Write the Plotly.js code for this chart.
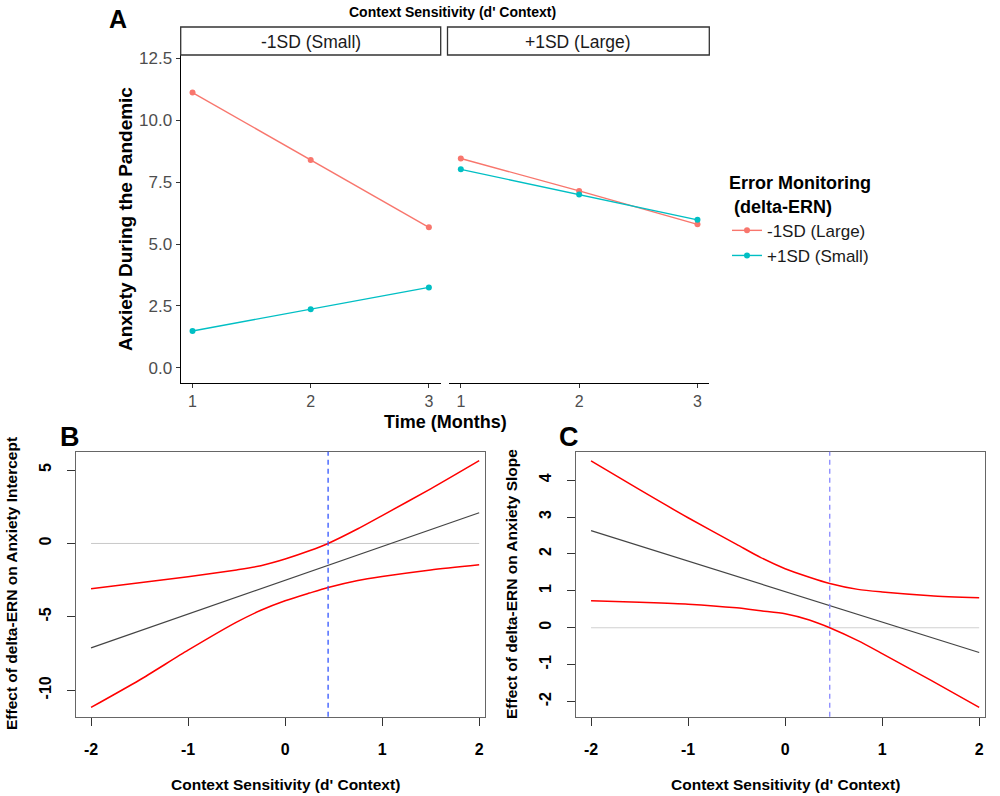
<!DOCTYPE html>
<html>
<head>
<meta charset="utf-8">
<script src="https://cdn.plot.ly/plotly-3.0.1.min.js"></script>
<style>
  html, body { margin: 0; padding: 0; background: #fff; }
  #fig { width: 1000px; height: 796px; }
</style>
</head>
<body>
<div id="fig"></div>
<script>
// Panel A: anxiety over time, split by context sensitivity
const months = [1, 2, 3];
const smallCtxLargeErn = [11.12, 8.40, 5.68];   // -1SD context, -1SD delta-ERN (Large)
const smallCtxSmallErn = [1.49, 2.37, 3.25];    // -1SD context, +1SD delta-ERN (Small)
const largeCtxLargeErn = [8.46, 7.15, 5.80];
const largeCtxSmallErn = [8.02, 7.00, 5.98];
const facetLabels = ["-1SD (Small)", "+1SD (Large)"];
const ernLabels = ["-1SD (Large)", "+1SD (Small)"];

// Panel B: effect on anxiety intercept (Johnson-Neyman)
const bCtx = [-2, -1.5, -1, -0.5, -0.25, 0, 0.25, 0.443, 0.75, 1, 1.5, 2];
const bUpper = [-3.08, -2.68, -2.27, -1.80, -1.52, -1.06, -0.50, 0, 1.00, 1.90, 3.72, 5.64];
const bLower = [-11.17, -9.30, -7.27, -5.36, -4.55, -3.90, -3.38, -3.00, -2.52, -2.25, -1.80, -1.45];
const bLineX = [-2, 2];
const bEstimate = [-7.11, 2.09];
const bBoundary = 0.443;

// Panel C: effect on anxiety slope
const cCtx = [-2, -1.5, -1, -0.5, -0.25, 0, 0.25, 0.46, 0.75, 1, 1.5, 2];
const cUpper = [4.52, 3.74, 2.98, 2.26, 1.90, 1.60, 1.37, 1.20, 1.04, 0.97, 0.87, 0.81];
const cLower = [0.73, 0.69, 0.64, 0.54, 0.46, 0.38, 0.21, 0, -0.35, -0.70, -1.42, -2.16];
const cLineX = [-2, 2];
const cEstimate = [2.63, -0.67];
const cBoundary = 0.46;

const zeroX = [-2, 2];
const zeroY = [0, 0];

const ctxTicks = [-2, -1, 0, 1, 2];
const ctxTickText = ["-2", "-1", "0", "1", "2"];
const bTicks = [-10, -5, 0, 5];
const bTickText = ["-10", "-5", "0", "5"];
const cTicks = [-2, -1, 0, 1, 2, 3, 4];
const cTickText = ["-2", "-1", "0", "1", "2", "3", "4"];

const RED = "#F8766D";
const TEAL = "#00BFC4";
const FONT = "Liberation Sans, Arial, sans-serif";

// pixel -> paper helpers (margins are zero)
const px = (x) => x / 1000;
const py = (y) => 1 - y / 796;

function seriesA(y, color, name, xa, ya, show) {
  return {
    x: months, y: y, xaxis: xa, yaxis: ya,
    type: "scatter", mode: "lines+markers", name: name,
    legendgroup: name, showlegend: show,
    line: { color: color, width: 1.4 },
    marker: { color: color, size: 6 },
  };
}

function bandLine(x, y, xa, ya, color, width) {
  return {
    x: x, y: y, xaxis: xa, yaxis: ya, type: "scatter", mode: "lines",
    showlegend: false, hoverinfo: "skip",
    line: { color: color, width: width, shape: "spline", smoothing: 0.7 },
  };
}

const traces = [
  seriesA(smallCtxLargeErn, RED, ernLabels[0], "x", "y", true),
  seriesA(smallCtxSmallErn, TEAL, ernLabels[1], "x", "y", true),
  seriesA(largeCtxLargeErn, RED, ernLabels[0], "x2", "y2", false),
  seriesA(largeCtxSmallErn, TEAL, ernLabels[1], "x2", "y2", false),

  bandLine(zeroX, zeroY, "x3", "y3", "#c8c8c8", 1),
  bandLine(bLineX, bEstimate, "x3", "y3", "#444444", 1.2),
  bandLine(bCtx, bUpper, "x3", "y3", "#ff0000", 1.5),
  bandLine(bCtx, bLower, "x3", "y3", "#ff0000", 1.5),

  bandLine(zeroX, zeroY, "x4", "y4", "#d0d0d0", 1.2),
  bandLine(cLineX, cEstimate, "x4", "y4", "#444444", 1.2),
  bandLine(cCtx, cUpper, "x4", "y4", "#ff0000", 1.5),
  bandLine(cCtx, cLower, "x4", "y4", "#ff0000", 1.5),
];

const axA = {
  showline: true, linecolor: "#000", linewidth: 1.1,
  ticks: "outside", ticklen: 4, tickcolor: "#333", tickwidth: 1,
  tickfont: { family: FONT, size: 17, color: "#4d4d4d" },
  showgrid: false, zeroline: false,
};

const axBase = {
  showline: true, mirror: true, linecolor: "#666", linewidth: 1.2,
  ticks: "outside", ticklen: 8, tickcolor: "#333", tickwidth: 1,
  tickfont: { family: FONT, size: 16, color: "#000", weight: "bold" },
  showgrid: false, zeroline: false,
};

const layout = {
  width: 1000, height: 796,
  margin: { l: 0, r: 0, t: 0, b: 0 },
  paper_bgcolor: "#fff", plot_bgcolor: "rgba(0,0,0,0)",
  font: { family: FONT },
  showlegend: true,

  xaxis: Object.assign({}, axA, {
    domain: [px(180.7), px(440.7)], range: [0.9, 3.1], anchor: "y",
    tickvals: months, tickfont: { family: FONT, size: 16, color: "#4d4d4d" },
  }),
  xaxis2: Object.assign({}, axA, {
    domain: [px(449), px(709.3)], range: [0.9, 3.1], anchor: "y2",
    tickvals: months, tickfont: { family: FONT, size: 16, color: "#4d4d4d" },
  }),
  yaxis: Object.assign({}, axA, {
    domain: [py(382.7), py(55)], range: [-0.6, 12.64], anchor: "x",
    tickvals: [0, 2.5, 5, 7.5, 10, 12.5], tickformat: ".1f",
  }),
  yaxis2: {
    domain: [py(382.7), py(55)], range: [-0.6, 12.64], anchor: "x2",
    matches: "y", showline: false, showticklabels: false, ticks: "",
    showgrid: false, zeroline: false,
  },

  xaxis3: Object.assign({}, axBase, {
    domain: [px(76), px(485)], range: [-2.155, 2.06], anchor: "y3",
    tickvals: ctxTicks, ticktext: ctxTickText, ticklabelstandoff: 10,
  }),
  yaxis3: Object.assign({}, axBase, {
    domain: [py(716.7), py(451.7)], range: [-11.8, 6.25], anchor: "x3",
    tickvals: bTicks, ticktext: bTickText, tickangle: -90, ticklabelstandoff: 9,
  }),
  xaxis4: Object.assign({}, axBase, {
    domain: [px(576), px(985)], range: [-2.155, 2.06], anchor: "y4",
    tickvals: ctxTicks, ticktext: ctxTickText, ticklabelstandoff: 10,
  }),
  yaxis4: Object.assign({}, axBase, {
    domain: [py(716.7), py(451.7)], range: [-2.41, 4.77], anchor: "x4",
    tickvals: cTicks, ticktext: cTickText, tickangle: -90, ticklabelstandoff: 9,
  }),

  legend: {
    x: px(727), y: py(166), xanchor: "left", yanchor: "top",
    bgcolor: "rgba(0,0,0,0)", itemwidth: 30, tracegroupgap: 0,
    font: { family: FONT, size: 17, color: "#1a1a1a" },
    title: {
      text: "Error Monitoring<br>\u00a0(delta-ERN)",
      font: { family: FONT, size: 18, color: "#000", weight: "bold" },
    },
  },

  shapes: [
    // facet strips
    { type: "rect", xref: "paper", yref: "paper",
      x0: px(180.7), x1: px(440.7), y0: py(55), y1: py(27),
      line: { color: "#333", width: 1.3 }, fillcolor: "#fff" },
    { type: "rect", xref: "paper", yref: "paper",
      x0: px(447.5), x1: px(709.3), y0: py(55), y1: py(27),
      line: { color: "#333", width: 1.3 }, fillcolor: "#fff" },
    // Johnson-Neyman boundaries
    { type: "line", xref: "x3", yref: "y3 domain", x0: bBoundary, x1: bBoundary,
      y0: 0, y1: 1, line: { color: "#3355ff", width: 1.3, dash: "5px,4px" } },
    { type: "line", xref: "x4", yref: "y4 domain", x0: cBoundary, x1: cBoundary,
      y0: 0, y1: 1, line: { color: "#8888ff", width: 1.3, dash: "5px,4px" } },
  ],

  annotations: [
    { text: "<b>A</b>", x: px(118), y: py(19), font: { size: 25, color: "#000" } },
    { text: "<b>B</b>", x: px(70), y: py(437), font: { size: 27, color: "#000" } },
    { text: "<b>C</b>", x: px(569), y: py(437), font: { size: 27, color: "#000" } },
    { text: "<b>Context Sensitivity (d' Context)</b>", x: px(452), y: py(12),
      font: { size: 14, color: "#000" } },
    { text: facetLabels[0], x: px(310.7), y: py(42), font: { size: 17.5, color: "#1a1a1a" } },
    { text: facetLabels[1], x: px(578.4), y: py(42), font: { size: 17.5, color: "#1a1a1a" } },
    { text: "<b>Anxiety During the Pandemic</b>", x: px(125), y: py(219), textangle: -90,
      font: { size: 19, color: "#000" } },
    { text: "<b>Time (Months)</b>", x: px(445), y: py(422), font: { size: 18, color: "#000" } },
    { text: "<b>Effect of delta-ERN on Anxiety Intercept</b>", x: px(11), y: py(584),
      textangle: -90, font: { size: 15.5, color: "#000" } },
    { text: "<b>Context Sensitivity (d' Context)</b>", x: px(285), y: py(784),
      font: { size: 15.5, color: "#000" } },
    { text: "<b>Effect of delta-ERN on Anxiety Slope</b>", x: px(511), y: py(584),
      textangle: -90, font: { size: 15.5, color: "#000" } },
    { text: "<b>Context Sensitivity (d' Context)</b>", x: px(785), y: py(784),
      font: { size: 15.5, color: "#000" } },
  ].map((a) => Object.assign({ xref: "paper", yref: "paper", showarrow: false,
    xanchor: "center", yanchor: "middle" }, a, { font: Object.assign({ family: FONT }, a.font) })),
};

Plotly.newPlot("fig", traces, layout, { staticPlot: true, displayModeBar: false });
</script>
</body>
</html>
